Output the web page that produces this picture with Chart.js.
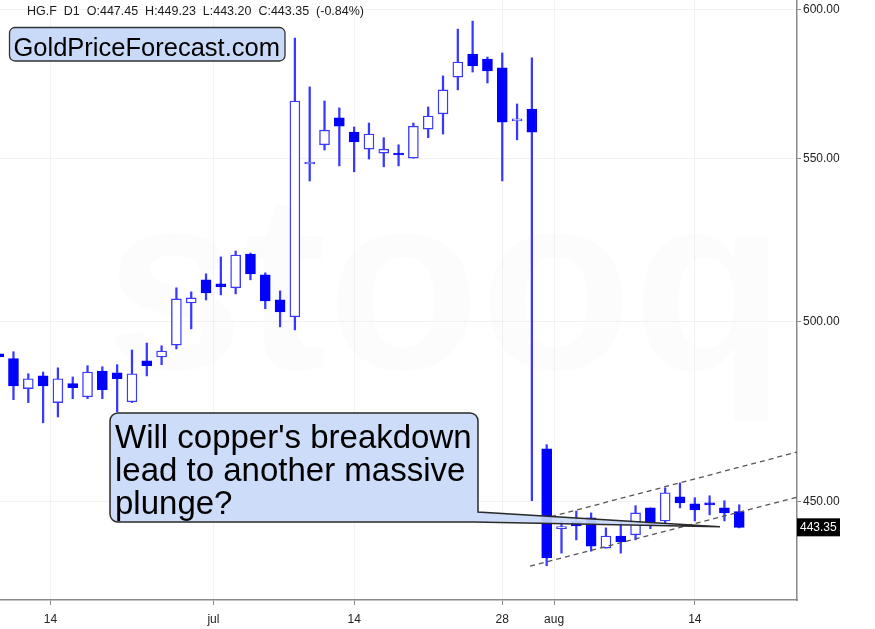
<!DOCTYPE html>
<html><head><meta charset="utf-8">
<script src="https://cdn.jsdelivr.net/npm/chart.js@4.4.1/dist/chart.umd.min.js"></script>
<style>html,body{margin:0;padding:0;background:#fff;}canvas{display:block;}</style>
</head><body>
<canvas id="c" width="875" height="629"></canvas>
<script>
// ---- data (HG.F daily) ----
const dates = ['Jun 10','Jun 11','Jun 12','Jun 13','Jun 16','Jun 17','Jun 18','Jun 19','Jun 20','Jun 23','Jun 24','Jun 25','Jun 26','Jun 27','Jun 30',
 'Jul 1','Jul 2','Jul 3','Jul 4','Jul 7','Jul 8','Jul 9','Jul 10','Jul 11','Jul 14','Jul 15','Jul 16','Jul 17','Jul 18','Jul 21','Jul 22','Jul 23','Jul 24','Jul 25','Jul 28','Jul 29','Jul 30','Jul 31',
 'Aug 1','Aug 4','Aug 5','Aug 6','Aug 7','Aug 8','Aug 11','Aug 12','Aug 13','Aug 14','Aug 15','Aug 18','Aug 19'];
const openP  = [490.7,489.3,480.8,484.4,476.9,482.2,478.5,485.8,485.3,477.1,488.7,489.8,493.2,505.5,512.4,
 511.2,510.0,520.2,513.9,506.4,501.4,548.3,554.5,563.3,558.6,553.1,551.8,551.8,550.2,559.6,564.6,576.9,584.7,583.0,580.0,562.3,566.2,464.2,
 443.0,445.0,445.8,438.0,441.1,441.4,448.4,445.0,451.3,449.5,449.7,448.4,447.45];
const highP  = [491.3,491.3,485.0,485.5,486.7,484.1,487.3,487.0,487.6,491.8,493.8,493.0,510.0,508.8,514.2,
 519.3,521.1,520.5,514.5,509.1,590.2,573.6,568.9,566.6,560.3,561.6,556.8,554.5,561.6,566.9,577.3,593.3,596.1,583.7,585.1,567.9,583.4,465.3,
 445.0,447.6,447.1,443.2,444.8,449.0,448.4,453.7,455.0,451.1,451.6,450.3,449.23];
const lowP   = [489.3,477.7,476.9,471.3,472.9,478.0,478.0,478.0,474.3,476.9,484.4,487.6,492.1,497.9,506.4,
 507.9,508.2,512.4,503.8,498.5,497.6,542.9,552.8,547.7,545.8,549.9,547.4,547.7,550.2,556.8,558.0,572.6,578.6,574.9,542.9,556.1,450.3,433.5,
 436.7,440.1,437.2,438.0,436.7,440.1,443.0,444.5,448.4,445.0,446.6,445.0,443.20];
const closeP = [489.8,481.6,483.6,481.6,483.6,481.1,485.5,480.5,483.6,485.0,487.3,491.5,506.7,507.0,508.5,
 510.3,519.9,514.2,506.1,502.9,568.9,548.9,559.3,560.6,555.4,558.0,553.1,551.2,560.6,563.9,572.6,582.0,580.7,579.0,561.9,562.9,558.6,435.5,
 443.5,443.7,438.5,441.1,439.6,447.1,444.0,452.4,449.7,447.9,449.2,447.1,443.35];

const xTickPos    = [3.5, 14.5, 24, 34, 37.5, 47];
const xTickLabels = ['14', 'jul', '14', '28', 'aug', '14'];
const yTicks      = [450, 500, 550, 600];

const headerText   = 'HG.F  D1  O:447.45  H:449.23  L:443.20  C:443.35  (-0.84%)';
const logoText     = 'GoldPriceForecast.com';
const calloutLines = ["Will copper's breakdown", 'lead to another massive', 'plunge?'];
const calloutTip   = [48.7, 443.5];
const upperChannel = [[37.29, 446.1], [53.9, 463.3]];
const lowerChannel = [[35.88, 433.4], [53.9, 451.2]];
const lastPrice    = 443.35;

// ---- derived datasets ----
const isUp = openP.map((o, i) => closeP[i] >= o);
const bodyData = openP.map((o, i) => ({x: i, y: [Math.min(o, closeP[i]), Math.max(o, closeP[i])]}));
const wickData = lowP.map((l, i) => ({x: i, y: [l, highP[i]]}));

const FONT = '"Liberation Sans", Arial, sans-serif';
Chart.defaults.font.family = FONT;

function roundRect(ctx, x, y, w, h, r) {
  ctx.beginPath();
  ctx.moveTo(x + r, y);
  ctx.lineTo(x + w - r, y); ctx.arcTo(x + w, y, x + w, y + r, r);
  ctx.lineTo(x + w, y + h - r); ctx.arcTo(x + w, y + h, x + w - r, y + h, r);
  ctx.lineTo(x + r, y + h); ctx.arcTo(x, y + h, x, y + h - r, r);
  ctx.lineTo(x, y + r); ctx.arcTo(x, y, x + r, y, r);
  ctx.closePath();
}

const overlay = {
  id: 'overlay',
  beforeDatasetsDraw(chart) {
    const ctx = chart.ctx;
    ctx.save();
    ctx.fillStyle = 'rgba(0,0,0,0.013)';
    ctx.font = 'bold 250px ' + FONT;
    ctx.textAlign = 'center'; ctx.textBaseline = 'middle';
    ctx.fillText('stooq', 445, 300);
    ctx.restore();
  },
  afterDatasetsDraw(chart) {
    const {ctx, chartArea: ca} = chart;
    const x = chart.scales.x, y = chart.scales.y;
    // channel lines
    ctx.save();
    ctx.beginPath(); ctx.rect(ca.left, ca.top, ca.right - ca.left, ca.bottom - ca.top); ctx.clip();
    ctx.setLineDash([5, 4]); ctx.strokeStyle = '#555'; ctx.lineWidth = 1.3;
    [upperChannel, lowerChannel].forEach(seg => {
      ctx.beginPath();
      ctx.moveTo(x.getPixelForValue(seg[0][0]), y.getPixelForValue(seg[0][1]));
      ctx.lineTo(x.getPixelForValue(seg[1][0]), y.getPixelForValue(seg[1][1]));
      ctx.stroke();
    });
    ctx.restore();

    // callout
    const bx = 110, by = 413, bw = 368, bh = 109, r = 8;
    const tx = x.getPixelForValue(calloutTip[0]), ty = y.getPixelForValue(calloutTip[1]);
    ctx.save();
    ctx.beginPath();
    ctx.moveTo(bx + r, by);
    ctx.lineTo(bx + bw - r, by); ctx.arcTo(bx + bw, by, bx + bw, by + r, r);
    ctx.lineTo(bx + bw, by + bh - 10);
    ctx.lineTo(tx, ty);
    ctx.lineTo(bx + bw - 4, by + bh);
    ctx.lineTo(bx + r, by + bh); ctx.arcTo(bx, by + bh, bx, by + bh - r, r);
    ctx.lineTo(bx, by + r); ctx.arcTo(bx, by, bx + r, by, r);
    ctx.closePath();
    ctx.fillStyle = 'rgba(201,218,248,0.92)';
    ctx.fill();
    ctx.strokeStyle = '#2a2a2a'; ctx.lineWidth = 1.5; ctx.stroke();
    ctx.fillStyle = '#000';
    ctx.font = '33px ' + FONT;
    ctx.textBaseline = 'alphabetic'; ctx.textAlign = 'left';
    calloutLines.forEach((t, i) => ctx.fillText(t, 115, 448 + i * 33));
    ctx.restore();
  },
  afterDraw(chart) {
    const ctx = chart.ctx;
    const y = chart.scales.y, ca = chart.chartArea;
    ctx.save();
    // header
    ctx.fillStyle = '#1a1a1a';
    ctx.font = '12.5px ' + FONT;
    ctx.textBaseline = 'alphabetic'; ctx.textAlign = 'left';
    ctx.fillText(headerText, 27, 15);
    // logo box
    roundRect(ctx, 9.5, 27.5, 275.5, 33.5, 5.5);
    ctx.fillStyle = '#c9daf8'; ctx.fill();
    ctx.strokeStyle = '#333'; ctx.lineWidth = 1.3; ctx.stroke();
    ctx.fillStyle = '#000';
    ctx.font = '25.5px ' + FONT;
    ctx.fillText(logoText, 13.5, 56);
    // last price tag
    const py = y.getPixelForValue(lastPrice);
    ctx.fillStyle = '#000';
    ctx.fillRect(ca.right, py - 9, 43, 18);
    ctx.fillStyle = '#fff';
    ctx.font = '12px ' + FONT;
    ctx.textBaseline = 'middle';
    ctx.fillText(lastPrice.toFixed(2), ca.right + 3, py + 0.5);
    ctx.restore();
  }
};

new Chart(document.getElementById('c'), {
  type: 'bar',
  data: {
    datasets: [
      {label: 'wick', data: wickData, backgroundColor: '#3838ff', borderWidth: 0,
       barThickness: 1.6, grouped: false, order: 2},
      {label: 'body', data: bodyData,
       backgroundColor: c => isUp[c.dataIndex] ? '#ffffff' : '#0000ff',
       borderColor: c => isUp[c.dataIndex] ? '#3a3aff' : '#0000ff',
       borderWidth: 1.4, borderSkipped: false, barThickness: 10, minBarLength: 2,
       grouped: false, order: 1}
    ]
  },
  options: {
    responsive: false, animation: false, devicePixelRatio: 1,
    layout: {padding: 0},
    plugins: {legend: {display: false}, tooltip: {enabled: false}},
    scales: {
      x: {
        type: 'linear', min: 0.09, max: 53.9, offset: false,
        afterBuildTicks: s => { s.ticks = xTickPos.map(v => ({value: v})); },
        afterFit: s => { s.height = 29; s.paddingLeft = 0; s.paddingRight = 0; },
        ticks: {callback: (v, i) => xTickLabels[i], autoSkip: false, maxRotation: 0, minRotation: 0,
                padding: 7, color: '#222', font: {size: 12, family: '"Liberation Sans Narrow", "Liberation Sans", Arial, sans-serif'}},
        grid: {offset: false, color: 'rgba(0,0,0,0.05)', tickColor: '#8a8a8a', tickLength: 5, lineWidth: 1},
        border: {color: '#8a8a8a', width: 1.5}
      },
      y: {
        type: 'logarithmic', position: 'right', min: 424.9, max: 603.5,
        afterBuildTicks: s => { s.ticks = yTicks.map(v => ({value: v})); },
        afterFit: s => { s.width = 78; s.paddingTop = 0; s.paddingBottom = 0; },
        ticks: {callback: v => Number(v).toFixed(2), padding: 2, color: '#222', font: {size: 12}},
        grid: {color: 'rgba(0,0,0,0.05)', tickColor: '#8a8a8a', tickLength: 4, lineWidth: 1},
        border: {color: '#8a8a8a', width: 1.5}
      }
    }
  },
  plugins: [overlay]
});
</script>
</body></html>
